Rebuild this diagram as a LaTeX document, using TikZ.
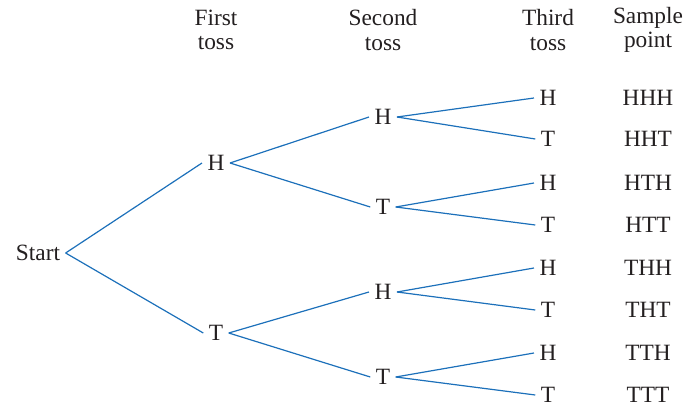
\documentclass[tikz,border=0pt]{standalone}
\usepackage{fontspec}
\setmainfont{Liberation Serif}
\usepackage{xcolor}
\usepackage{tikz}
\usetikzlibrary{positioning}

\definecolor{branch}{RGB}{28,112,186}
\definecolor{ink}{RGB}{35,31,32}

\tikzset{
  lbl/.style={text=ink,inner sep=4pt,text height=11.5pt,text depth=0pt},
  head/.style={text=ink,align=center,inner sep=0pt},
  br/.style={branch,line width=0.9pt}
}

\begin{document}
\begin{tikzpicture}[x=0.75pt,y=-0.75pt,font=\fontsize{17.5}{18.5}\selectfont]
  \useasboundingbox (0,0) rectangle (697,410);
  % column heads
  \node[head] (h1) at (216,30) {First\\toss};
  \node[head] (h2) at (383,30) {Second\\toss};
  \node[head] (h3) at (548,30) {Third\\toss};
  \node[head] (h4) at (648,30) {Sample\\point};
  % tree
  \node[lbl] (s) at (38,253) {Start};
  \node[lbl] (a1) at (216,163) {H};
  \node[lbl] (a2) at (216,333) {T};
  \node[lbl] (b1) at (383,117) {H};
  \node[lbl] (b2) at (383,207) {T};
  \node[lbl] (b3) at (383,292) {H};
  \node[lbl] (b4) at (383,377) {T};
  \node[lbl] (c1) at (548,98) {H};
  \node[lbl] (c2) at (548,139) {T};
  \node[lbl] (c3) at (548,183) {H};
  \node[lbl] (c4) at (548,225) {T};
  \node[lbl] (c5) at (548,268) {H};
  \node[lbl] (c6) at (548,310) {T};
  \node[lbl] (c7) at (548,353) {H};
  \node[lbl] (c8) at (548,395) {T};
  % sample points
  \node[lbl] (p1) at (648,98) {HHH};
  \node[lbl] (p2) at (648,139) {HHT};
  \node[lbl] (p3) at (648,183) {HTH};
  \node[lbl] (p4) at (648,225) {HTT};
  \node[lbl] (p5) at (648,268) {THH};
  \node[lbl] (p6) at (648,310) {THT};
  \node[lbl] (p7) at (648,353) {TTH};
  \node[lbl] (p8) at (648,395) {TTT};
  \draw[br] (s.east)--(a1.west);
  \draw[br] (s.east)--(a2.west);
  \draw[br] (a1.east)--(b1.west);
  \draw[br] (a1.east)--(b2.west);
  \draw[br] (a2.east)--(b3.west);
  \draw[br] (a2.east)--(b4.west);
  \draw[br] (b1.east)--(c1.west);
  \draw[br] (b1.east)--(c2.west);
  \draw[br] (b2.east)--(c3.west);
  \draw[br] (b2.east)--(c4.west);
  \draw[br] (b3.east)--(c5.west);
  \draw[br] (b3.east)--(c6.west);
  \draw[br] (b4.east)--(c7.west);
  \draw[br] (b4.east)--(c8.west);
\end{tikzpicture}
\end{document}
